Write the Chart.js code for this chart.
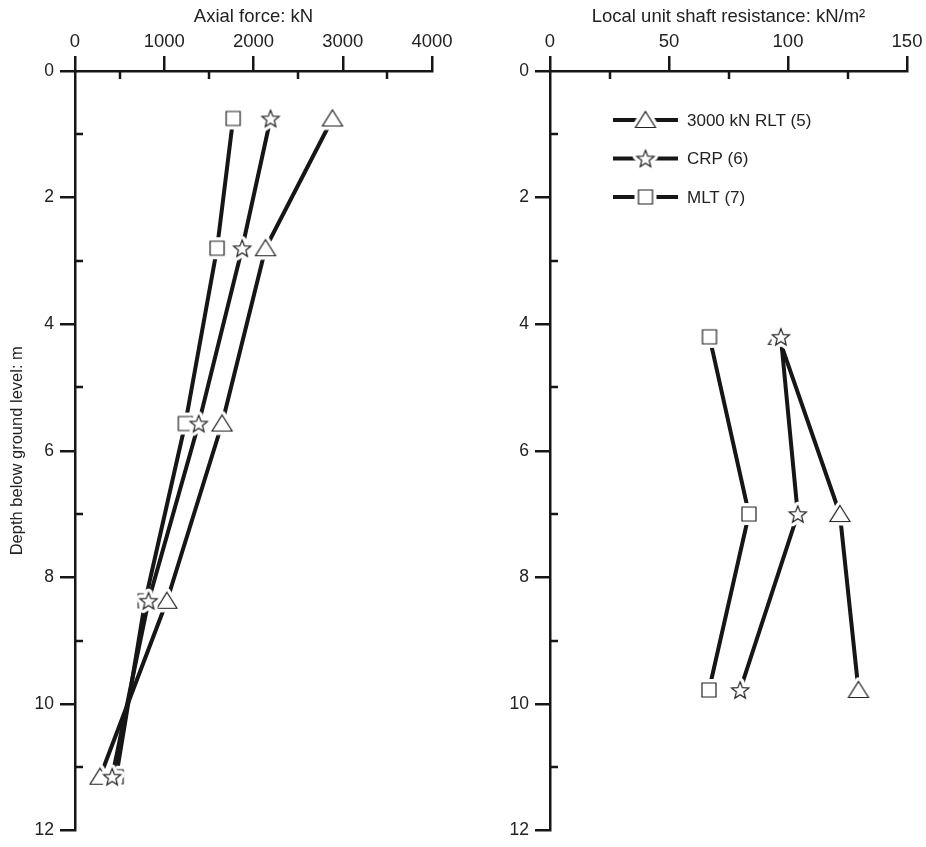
<!DOCTYPE html>
<html>
<head>
<meta charset="utf-8">
<title>Axial force and shaft resistance with depth</title>
<script src="https://cdn.jsdelivr.net/npm/chart.js@4.4.1/dist/chart.umd.min.js"></script>
<style>
  html, body { margin: 0; padding: 0; background: #fff; }
  #wrap { position: relative; width: 926px; height: 847px; }
  #left  { position: absolute; left: 0;     top: 0; }
  #right { position: absolute; left: 470px; top: 0; }
</style>
</head>
<body>
<div id="wrap">
  <canvas id="left"  width="470" height="847"></canvas>
  <canvas id="right" width="456" height="847"></canvas>
</div>
<script>
// gauge depths (m) and axial load at each level (kN)
const forceDepths = [0.75, 2.8, 5.57, 8.37, 11.15];
const forceRLT    = [2885, 2135, 1648, 1030, 281];
const forceCRP    = [2191, 1873, 1386, 824, 416];
const forceMLT    = [1772, 1592, 1236, 787, 461];

// mid-depths between gauges (m) and local unit shaft resistance (kN/m2)
const shaftDepths = [4.2, 7.0, 9.78];
const shaftRLT    = [96, 121.8, 129.6];
const shaftCRP    = [97, 104.1, 79.9];
const shaftMLT    = [67, 83.6, 66.8];

const seriesNames = ['3000 kN RLT (5)', 'CRP (6)', 'MLT (7)'];

const depthTicks  = [0, 2, 4, 6, 8, 10, 12];
const depthMinor  = [1, 3, 5, 7, 9, 11];
const forceTicks  = [0, 1000, 2000, 3000, 4000];
const forceMinor  = [500, 1500, 2500, 3500];
const shaftTicks  = [0, 50, 100, 150];
const shaftMinor  = [25, 75, 125];

const INK  = '#161616';
const TEXT = '#222';
const FONT = "'Liberation Sans', Arial, Helvetica, sans-serif";

// open markers with a white collar so the lines stop short of them
function marker(shape) {
  const size = 34, m = size / 2;
  const c = document.createElement('canvas');
  c.width = size; c.height = size;
  const g = c.getContext('2d');
  g.beginPath();
  if (shape === 'triangle') {
    g.moveTo(m, m - 8.5);
    g.lineTo(m + 10, m + 7.5);
    g.lineTo(m - 10, m + 7.5);
    g.closePath();
  } else if (shape === 'square') {
    g.rect(m - 7, m - 7, 14, 14);
  } else {
    for (let k = 0; k < 10; k++) {
      const r = k % 2 ? 3.9 : 9;
      const a = -Math.PI / 2 + k * Math.PI / 5;
      const px = m + r * Math.cos(a), py = m + 0.8 + r * Math.sin(a);
      k ? g.lineTo(px, py) : g.moveTo(px, py);
    }
    g.closePath();
  }
  g.lineJoin = 'round';
  g.strokeStyle = '#fff'; g.lineWidth = 8; g.stroke();
  g.fillStyle = '#fff'; g.fill();
  g.lineJoin = 'miter';
  g.strokeStyle = '#222'; g.lineWidth = 1.2; g.stroke();
  return c;
}
const markers = [marker('triangle'), marker('star'), marker('square')];
const drawOrder = [1, 0, 2];

// inward minor ticks on both axes
const minorTicks = {
  id: 'minorTicks',
  afterDraw(chart, args, opts) {
    const { ctx, scales: { x, y } } = chart;
    ctx.save();
    ctx.strokeStyle = INK;
    ctx.lineWidth = 2.5;
    ctx.beginPath();
    opts.x.forEach(v => {
      const px = Math.round(x.getPixelForValue(v));
      ctx.moveTo(px, y.top); ctx.lineTo(px, y.top + 8);
    });
    opts.y.forEach(v => {
      const py = Math.round(y.getPixelForValue(v));
      ctx.moveTo(x.left, py); ctx.lineTo(x.left + 8, py);
    });
    ctx.stroke();
    ctx.restore();
  }
};

// line-and-marker key
const seriesKey = {
  id: 'seriesKey',
  afterDraw(chart, args, opts) {
    if (!opts.show) return;
    const ctx = chart.ctx;
    ctx.save();
    chart.data.datasets.forEach((ds, i) => {
      const y = opts.top + i * opts.gap;
      ctx.strokeStyle = INK;
      ctx.lineWidth = 4;
      ctx.beginPath();
      ctx.moveTo(opts.left, y); ctx.lineTo(opts.left + 65, y);
      ctx.stroke();
      const img = ds.pointStyle;
      ctx.drawImage(img, opts.left + 32.5 - img.width / 2, y - img.height / 2);
      ctx.fillStyle = TEXT;
      ctx.font = '17px ' + FONT;
      ctx.textBaseline = 'middle';
      ctx.fillText(ds.label, opts.left + 74, y + 1);
    });
    ctx.restore();
  }
};

function axisStyle(extra) {
  return Object.assign({
    type: 'linear',
    border: { display: true, color: INK, width: 2.5 },
    grid: { display: true, drawOnChartArea: false, drawTicks: true, tickLength: 15, color: INK, lineWidth: 2.5 },
  }, extra);
}

function makePanel(id, cfg) {
  const depthSeries = [cfg.rlt, cfg.crp, cfg.mlt];
  return new Chart(document.getElementById(id), {
    type: 'line',
    data: {
      datasets: depthSeries.map((vals, i) => ({
        label: seriesNames[i],
        data: vals.map((v, k) => ({ x: v, y: cfg.depths[k] })),
        borderColor: INK,
        borderWidth: 4,
        borderCapStyle: 'butt',
        pointStyle: markers[i],
        pointRadius: 10,
        pointHoverRadius: 10,
        tension: 0,
        fill: false,
        order: drawOrder[i]
      }))
    },
    options: {
      responsive: false,
      animation: false,
      events: [],
      layout: { padding: { top: 0, left: 0, right: cfg.padRight, bottom: 11 } },
      plugins: {
        legend: { display: false },
        tooltip: { enabled: false },
        minorTicks: { x: cfg.minor, y: depthMinor },
        seriesKey: cfg.key
      },
      scales: {
        x: axisStyle({
          position: 'top',
          min: 0, max: cfg.max,
          afterBuildTicks: s => { s.ticks = cfg.ticks.map(v => ({ value: v })); },
          afterFit: s => { s.height = 71; },
          ticks: { color: TEXT, font: { family: FONT, size: 18.5 }, padding: 3, maxRotation: 0, callback: v => String(v) },
          title: { display: true, text: cfg.title, color: TEXT, font: { family: FONT, size: 18.5 }, padding: { top: 6, bottom: 0 } }
        }),
        y: axisStyle({
          reverse: true,
          min: 0, max: 12,
          afterBuildTicks: s => { s.ticks = depthTicks.map(v => ({ value: v })); },
          afterFit: s => { s.width = cfg.yWidth; },
          ticks: { color: TEXT, font: { family: FONT, size: 17.5 }, padding: 6, callback: v => String(v) },
          title: { display: cfg.yTitle !== '', text: cfg.yTitle, color: TEXT, font: { family: FONT, size: 16.5 }, padding: { top: 8, bottom: 0 } }
        })
      }
    },
    plugins: [minorTicks, seriesKey]
  });
}

makePanel('left', {
  depths: forceDepths, rlt: forceRLT, crp: forceCRP, mlt: forceMLT,
  ticks: forceTicks, minor: forceMinor, max: 4000,
  title: 'Axial force: kN', yTitle: 'Depth below ground level: m',
  yWidth: 75, padRight: 38,
  key: { show: false }
});

makePanel('right', {
  depths: shaftDepths, rlt: shaftRLT, crp: shaftCRP, mlt: shaftMLT,
  ticks: shaftTicks, minor: shaftMinor, max: 150,
  title: 'Local unit shaft resistance: kN/m\u00B2', yTitle: '',
  yWidth: 80, padRight: 19,
  key: { show: true, left: 143, top: 120, gap: 38.5 }
});
</script>
</body>
</html>
